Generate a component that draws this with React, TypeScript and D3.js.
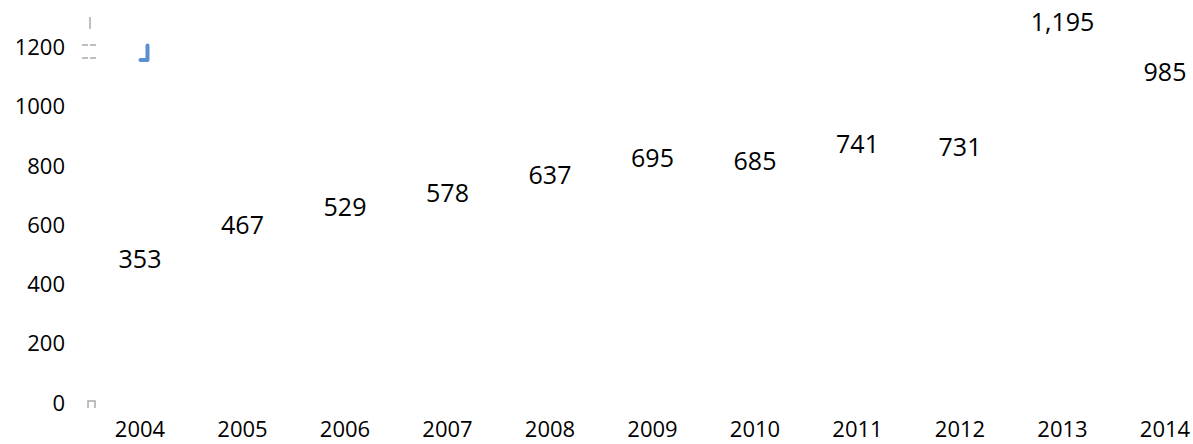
import * as d3 from "d3";
import {useEffect} from "react";

const years = ["2004", "2005", "2006", "2007", "2008", "2009", "2010", "2011", "2012", "2013", "2014"];
const values = [353, 467, 529, 578, 637, 695, 685, 741, 731, 1195, 985];
const yTicks = [0, 200, 400, 600, 800, 1000, 1200];

export default function App() {
    const width = 1193;
    const height = 444;
    const font = "'Open Sans', sans-serif";

    useEffect(() => {
        document.body.style.margin = "0";
    }, []);

    // 102.5px per year, the last band runs a bit past the right edge
    const step = 102.5;
    const x = d3.scaleBand()
        .domain(years)
        .range([140 - step / 2, 140 - step / 2 + step * years.length]);

    const y = d3.scaleLinear()
        .domain([0, 1200])
        .range([403, 47.5]);

    const fmt = d3.format(",");
    const cx = (d: string) => (x(d) || 0) + x.bandwidth() / 2;
    const clampX = (px: number, w: number) => Math.min(px, width - w / 2 - 3);

    return (
        <svg width={width} height={height} style={{display: "block", background: "#fff"}}>
            {/* y axis labels */}
            {yTicks.map(t => (
                <text key={t} x={65} y={y(t)} dy="0.35em" textAnchor="end"
                      fontFamily={font} fontSize={22} fill="#000">{t}</text>
            ))}

            {/* x axis labels */}
            {years.map(d => (
                <text key={d} x={clampX(cx(d), 50)} y={429} dy="0.35em" textAnchor="middle"
                      fontFamily={font} fontSize={22} fill="#000">{d}</text>
            ))}

            {/* leftover bits near the axis */}
            <line x1={90} x2={90} y1={y(1200) - 30.5} y2={y(1200) - 18.5} stroke="#aaa" strokeWidth={1.5}/>
            <line x1={82} x2={97} y1={y(1200) - 2.5} y2={y(1200) - 2.5} stroke="#aaa" strokeWidth={1.5} strokeDasharray="6 2"/>
            <line x1={82} x2={97} y1={y(1200) + 10.5} y2={y(1200) + 10.5} stroke="#aaa" strokeWidth={1.5} strokeDasharray="6 2"/>
            <path d={`M${88},${y(0) + 5}V${y(0) - 2}H${95}V${y(0) + 5}`} fill="none" stroke="#aaa" strokeWidth={1.5}/>

            {/* tiny blue bar at the first category */}
            <path d={`M${cx(years[0]) + 7.5},${y(1200) - 2}V${y(1200) + 12.5}H${cx(years[0]) + 0.5}`}
                  fill="none" stroke="#5b8fcf" strokeWidth={4} strokeLinecap="round" strokeLinejoin="round"/>

            {/* value labels, kept inside the top edge */}
            {values.map((v, i) => (
                <text key={years[i]} x={clampX(cx(years[i]), 44)} y={Math.max(y(v) - 39, 22.5)} dy="0.35em"
                      textAnchor="middle" fontFamily={font} fontSize={25} fill="#000">{fmt(v)}</text>
            ))}
        </svg>
    );
}
